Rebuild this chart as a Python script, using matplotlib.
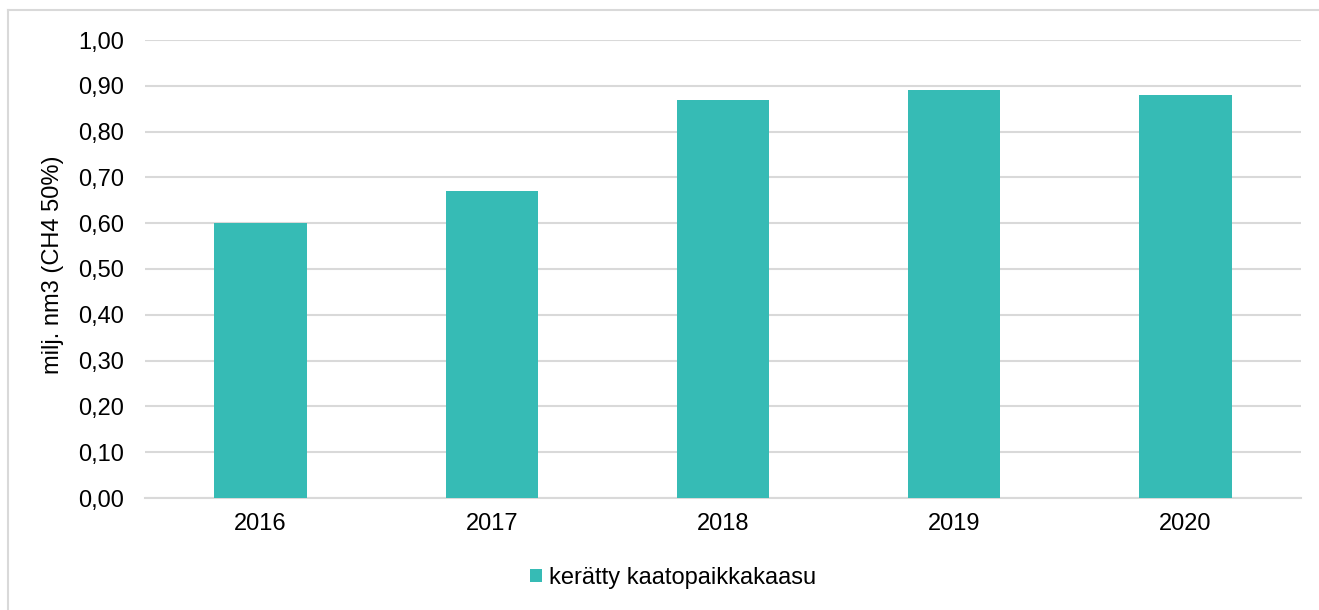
import numpy as np
import matplotlib.pyplot as plt
from matplotlib.lines import Line2D
from matplotlib.patches import Patch

years = ['2016', '2017', '2018', '2019', '2020']
kaasu = [0.60, 0.67, 0.87, 0.89, 0.88]
yticks = [0.0, 0.1, 0.2, 0.3, 0.4, 0.5, 0.6, 0.7, 0.8, 0.9, 1.0]

plt.rcParams['font.family'] = ['Liberation Sans', 'DejaVu Sans']

bar_color = '#36BBB5'
grid_color = '#D9D9D9'
fs = 17

fig = plt.figure(figsize=(13.19, 6.10), dpi=100)
ax = fig.add_axes([145 / 1319, 1 - 498 / 610, 1156 / 1319, 458 / 610])

x = np.arange(len(years))
ax.bar(x, kaasu, width=0.4, color=bar_color, zorder=3)

ax.set_xlim(-0.5, len(years) - 0.5)
ax.set_ylim(0, 1.0)
ax.set_yticks(yticks)
ax.set_yticklabels([f'{v:.2f}'.replace('.', ',') for v in yticks], fontsize=fs)
ax.set_xticks(x)
ax.set_xticklabels(years, fontsize=fs)
ax.tick_params(axis='y', length=0, pad=15)
ax.tick_params(axis='x', length=0, pad=11)
ax.yaxis.grid(True, color=grid_color, linewidth=1.5, zorder=0)
ax.set_axisbelow(True)
for s in ['top', 'right', 'left']:
    ax.spines[s].set_visible(False)
ax.spines['bottom'].set_color(grid_color)
ax.spines['bottom'].set_linewidth(1.5)

ax.set_ylabel('milj. nm3 (CH4 50%)', fontsize=fs)
ax.yaxis.set_label_coords((64 - 145) / 1156, 0.51)

handle = Patch(facecolor=bar_color, edgecolor='none')
fig.legend([handle], ['kerätty kaatopaikkakaasu'], loc='center',
           bbox_to_anchor=(673 / 1319, 1 - 578 / 610), frameon=False,
           fontsize=fs, handlelength=0.5, handleheight=0.5, handletextpad=0.3)

# outer chart border (top and left edges visible in the frame)
fig.add_artist(Line2D([8 / 1319, 8 / 1319], [0, 1 - 10 / 610], transform=fig.transFigure,
                      color=grid_color, linewidth=1.5))
fig.add_artist(Line2D([8 / 1319, 1], [1 - 10 / 610, 1 - 10 / 610], transform=fig.transFigure,
                      color=grid_color, linewidth=1.5))

fig.savefig('out.png', dpi=100)
